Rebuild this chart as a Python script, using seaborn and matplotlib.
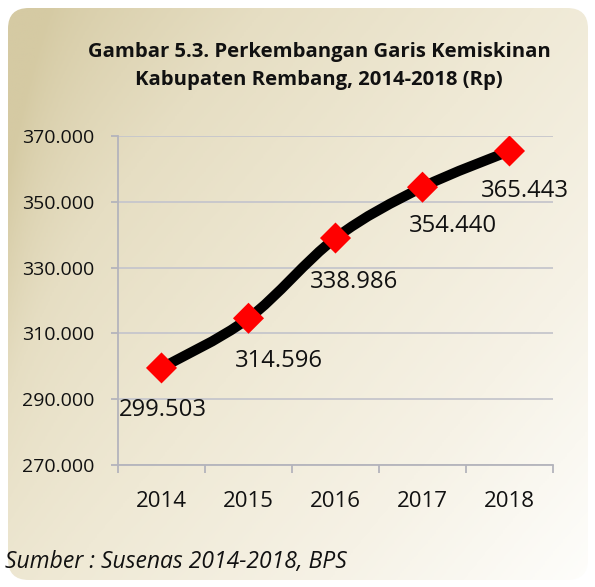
import numpy as np
import matplotlib
matplotlib.use("Agg")
import matplotlib.pyplot as plt
import seaborn as sns
from matplotlib.path import Path
from matplotlib.patches import PathPatch, FancyBboxPatch
from matplotlib.colors import LinearSegmentedColormap
from matplotlib.ticker import FuncFormatter, FixedLocator

# Data
years = ['2014', '2015', '2016', '2017', '2018']
garis_kemiskinan = [299503, 314596, 338986, 354440, 365443]

title = 'Gambar 5.3. Perkembangan Garis Kemiskinan\nKabupaten Rembang, 2014-2018 (Rp)'
source = 'Sumber : Susenas 2014-2018, BPS'

# label offsets (points) relative to each marker
label_offsets = [(1, -30), (22, -31), (13, -32), (22, -28), (11, -29)]

sns.set_style('white')
plt.rcParams['font.family'] = ['Open Sans', 'DejaVu Sans']


def dotted(v, pos=None):
    return f'{int(v):,}'.replace(',', '.')


fig = plt.figure(figsize=(5.95, 5.87), dpi=100)
fig.patch.set_facecolor('white')

# ---- background panel (rounded, beige gradient) ----
bg = fig.add_axes([0, 0, 1, 1], zorder=-5)
bg.set_xlim(0, 1)
bg.set_ylim(1, 0)
bg.axis('off')
gx, gy = np.meshgrid(np.linspace(0, 1, 300), np.linspace(0, 1, 300))
t = 0.55 * gx + 0.45 * gy
t = np.clip(t - 0.25 * np.exp(-gx / 0.05) * (1 - gy), 0, 1)
cmap = LinearSegmentedColormap.from_list(
    'beige', [(0, '#d5caa3'), (0.25, '#e6dec3'), (0.5, '#efe9d5'),
              (0.75, '#f6f2e6'), (1, '#fefefc')])
im = bg.imshow(t, cmap=cmap, extent=[0, 1, 1, 0], aspect='auto', vmin=0, vmax=1)
panel = FancyBboxPatch((8 / 595, 8 / 587), 580 / 595, 572 / 587,
                       boxstyle='round,pad=0.0,rounding_size=0.035',
                       transform=bg.transData, facecolor='none', edgecolor='none')
bg.add_patch(panel)
im.set_clip_path(panel)

# ---- chart ----
ax = fig.add_axes([118 / 595, 1 - 465 / 587, 435 / 595, 329 / 587])
ax.set_facecolor('none')

x = np.arange(len(years))
y = np.array(garis_kemiskinan, dtype=float)

# smoothed line (Catmull-Rom as cubic Bezier)
pts = np.column_stack([x, y])
ext = np.vstack([pts[0], pts, pts[-1]])
verts = [tuple(pts[0])]
codes = [Path.MOVETO]
for i in range(len(pts) - 1):
    p0, p1, p2, p3 = ext[i], ext[i + 1], ext[i + 2], ext[i + 3]
    c1 = p1 + (p2 - p0) / 6
    c2 = p2 - (p3 - p1) / 6
    verts += [tuple(c1), tuple(c2), tuple(p2)]
    codes += [Path.CURVE4] * 3
ax.add_patch(PathPatch(Path(verts, codes), facecolor='none', edgecolor='black',
                       linewidth=7.3, capstyle='round', joinstyle='round', zorder=3))

sns.scatterplot(x=x, y=y, marker='D', s=250, color='#ff0000', edgecolor='none',
                ax=ax, zorder=4, legend=False)

for xi, yi, (dx, dy) in zip(x, y, label_offsets):
    ax.annotate(dotted(yi), (xi, yi), xytext=(dx, dy), textcoords='offset points',
                ha='center', va='center', fontsize=17.2, color='#111111', zorder=5)

ax.set_xlim(-0.5, len(years) - 0.5)
ax.set_ylim(270000, 370000)
ax.yaxis.set_major_locator(FixedLocator(np.arange(270000, 370001, 20000)))
ax.yaxis.set_major_formatter(FuncFormatter(dotted))
ax.set_xticks(x)
ax.set_xticklabels(years)
ax.set_xticks(np.arange(-0.5, len(years)), minor=True)

ax.grid(axis='y', color='#c6c6cc', linewidth=1.3)
ax.set_axisbelow(True)
for side in ['top', 'right']:
    ax.spines[side].set_visible(False)
for side in ['left', 'bottom']:
    ax.spines[side].set_color('#b4b4bc')
    ax.spines[side].set_linewidth(1.3)

ax.tick_params(axis='y', which='major', length=5, width=1.3, color='#b4b4bc',
               labelsize=14, labelcolor='#111111', pad=12, left=True)
ax.tick_params(axis='x', which='major', length=0, labelsize=16,
               labelcolor='#111111', pad=19)
ax.tick_params(axis='x', which='minor', length=6, width=1.3, color='#b4b4bc',
               direction='out', bottom=True)
ax.set_xlabel('')
ax.set_ylabel('')

fig.text(319 / 595, 1 - 66 / 587, title, ha='center', va='center',
         fontsize=14.6, fontweight='bold', color='#111111', linespacing=1.55)
fig.text(5 / 595, 1 - 562 / 587, source, ha='left', va='center',
         fontsize=16.5, style='italic', color='#111111')

fig.savefig('out.png', dpi=100, facecolor=fig.get_facecolor())
